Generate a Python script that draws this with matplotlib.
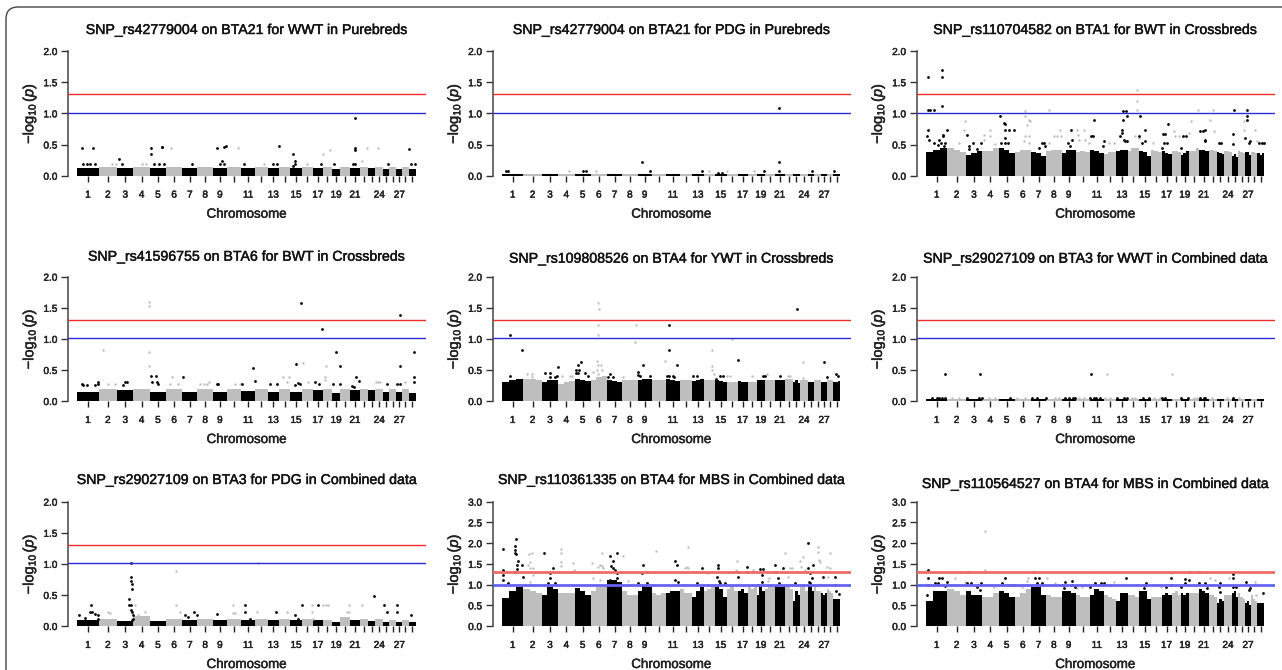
import numpy as np
import matplotlib
matplotlib.use('Agg')
import matplotlib.pyplot as plt
import matplotlib.patheffects as pe
from matplotlib.patches import FancyBboxPatch
from matplotlib.transforms import IdentityTransform

plt.rcParams['font.family'] = ['Liberation Sans', 'DejaVu Sans']
plt.rcParams['mathtext.fontset'] = 'custom'
plt.rcParams['mathtext.rm'] = 'Liberation Sans'
plt.rcParams['mathtext.it'] = 'Liberation Sans:italic'

# width of chromosomes 1..29 on the shared x scale
chrom_len = [64, 55.5, 49, 49, 49, 48, 46, 46, 42.5, 42, 43, 37, 34, 34, 34.5,
             33, 30, 27, 26, 29, 29, 25, 21, 25, 17.5, 21, 18, 19, 21]
shown_labels = [1, 2, 3, 4, 5, 6, 7, 8, 9, 11, 13, 15, 17, 19, 21, 24, 27]

titles = ['SNP_rs42779004 on BTA21 for WWT in Purebreds',
          'SNP_rs42779004 on BTA21 for PDG in Purebreds',
          'SNP_rs110704582 on BTA1 for BWT in Crossbreds',
          'SNP_rs41596755 on BTA6 for BWT in Crossbreds',
          'SNP_rs109808526 on BTA4 for YWT in Crossbreds',
          'SNP_rs29027109 on BTA3 for WWT in Combined data',
          'SNP_rs29027109 on BTA3 for PDG in Combined data',
          'SNP_rs110361335 on BTA4 for MBS in Combined data',
          'SNP_rs110564527 on BTA4 for MBS in Combined data']

# solid part of the cloud, one height per chromosome
p1_solid = [.13, .145, .13, .145, .13, .145, .12, .145, .13, .145, .12, .145, .12, .145, .12,
            .145, .12, .145, .10, .145, .12, .145, .12, .145, .11, .145, .11, .145, .11]
p2_solid = [.025] * 29
p3_solid = [.32, .36, .28, .35, .32, .38, .28, .38, .30, .32, .30, .35, .33, .38, .27,
            .36, .28, .33, .25, .33, .32, .36, .28, .35, .27, .33, .28, .30, .25]
p4_solid = [.15, .19, .18, .19, .15, .19, .14, .19, .14, .19, .16, .20, .14, .20, .15,
            .20, .18, .20, .13, .19, .17, .19, .17, .19, .14, .19, .14, .19, .13]
p5_solid = [.27, .32, .25, .26, .27, .33, .25, .31, .30, .30, .28, .31, .29, .30, .25,
            .27, .24, .28, .27, .30, .28, .32, .24, .30, .22, .30, .22, .30, .22]
p6_solid = [.025] * 29
p7_solid = [.09, .12, .08, .16, .08, .12, .10, .11, .09, .12, .10, .12, .10, .12, .09,
            .11, .09, .10, .07, .14, .09, .11, .08, .12, .07, .10, .07, .10, .07]
p8_solid = [.62, .72, .62, .68, .58, .75, .80, .60, .65, .62, .60, .65, .55, .68, .60,
            .72, .60, .72, .60, .75, .68, .70, .45, .65, .65, .60, .50, .60, .60]
p9_solid = [.55, .70, .45, .60, .50, .65, .65, .60, .50, .60, .55, .60, .45, .62, .50,
            .60, .55, .62, .50, .65, .55, .62, .35, .55, .50, .60, .35, .55, .30]

# top of the cloud over the left, middle and right of each chromosome
p3_fringe = [(.38, .42, .44), (.44, .42, .38), (.34, .36, .40), (.40, .40, .44), (.44, .42, .36),
             (.38, .42, .42), (.38, .36, .32), (.40, .42, .42), (.36, .42, .42), (.38, .40, .38),
             (.42, .40, .36), (.35, .38, .38), (.40, .42, .42), (.40, .44, .44), (.40, .38, .32),
             (.42, .40, .38), (.40, .36, .35), (.40, .40, .38), (.33, .37, .40), (.40, .40, .44),
             (.42, .42, .40), (.42, .42, .40), (.38, .36, .35), (.40, .40, .38), (.32, .35, .30),
             (.40, .38, .36), (.38, .38, .34), (.38, .38, .36), (.36, .34, .36)]
p5_fringe = [(.30, .34, .36), (.36, .36, .33), (.30, .34, .33), (.28, .30, .32), (.36, .34, .32),
             (.34, .38, .40), (.34, .32, .30), (.34, .34, .34), (.34, .36, .36), (.33, .33, .33),
             (.36, .34, .32), (.34, .34, .34), (.32, .34, .36), (.33, .33, .33), (.34, .32, .30),
             (.30, .30, .30), (.32, .31, .30), (.31, .31, .31), (.33, .33, .33), (.33, .33, .33),
             (.34, .34, .34), (.35, .35, .35), (.31, .33, .29), (.33, .33, .33), (.30, .30, .30),
             (.33, .33, .33), (.30, .30, .30), (.33, .33, .33), (.31, .30, .32)]
p8_fringe = [(.68, .85, .95), (.90, .85, .80), (.75, .95, .90), (.80, .80, .80), (.92, .85, .75),
             (.85, .95, 1.0), (1.1, 1.1, 1.05), (.85, .75, .75), (.85, 1.0, .95), (.80, .75, .80),
             (.80, .85, .85), (.90, .80, .80), (.70, .85, .95), (.85, .90, .95), (.95, .90, .70),
             (.90, 1.0, .85), (.85, .90, .80), (.95, .90, .95), (.75, .95, .85), (.90, 1.0, 1.0),
             (1.0, .95, .95), (1.0, .95, .90), (.60, .85, .75), (.95, .95, .85), (1.0, 1.0, .85),
             (.95, .85, .85), (.80, .75, .80), (.90, .85, .80), (.65, .65, .65)]
p9_fringe = [(.60, .85, .85), (.90, .85, .75), (.85, .75, .75), (.70, .70, .80), (.85, .80, .70),
             (.70, .80, .90), (.95, .95, .75), (.75, .70, .70), (.85, .85, .80), (.75, .70, .70),
             (.75, .90, .85), (.75, .70, .65), (.60, .80, .80), (.75, .75, .70), (.85, .85, .65),
             (.70, .70, .70), (.75, .80, .75), (.80, .85, .75), (.80, .75, .80), (.80, .80, .80),
             (.90, .85, .80), (.75, .75, .70), (.55, .65, .60), (.75, .75, .75), (.80, .85, .70),
             (.80, .70, .65), (.55, .60, .50), (.75, .65, .60), (.55, .55, .55)]

# isolated SNPs: (position on the x scale, -log10 p)
p1_points = [(15, .45), (48, .45), (18, .19), (30, .19), (38, .19), (53, .19), (125, .27), (135, .18),
             (115, .19), (103, .19), (221, .45), (221, .35), (255, .46), (253, .46), (231, .19), (246, .19),
             (261, .19), (280, .45), (420, .44), (440, .46), (446, .47), (428, .19), (435, .24), (440, .19),
             (482, .45), (604, .47), (586, .19), (598, .19), (648, .35), (653, .24), (653, .19), (646, .16),
             (738, .35), (758, .42), (834, .92), (834, .45), (834, .42), (826, .19), (834, .19), (853, .24),
             (868, .45), (903, .45), (995, .43), (1001, .19), (1012, .19), (933, .19), (343, .19), (501, .19),
             (731, .19), (770, .19), (194, .19), (206, .19), (560, .19), (688, .19)]
p2_points = [(12, .07), (18, .07), (200, .07), (244, .07), (252, .07), (281, .07), (421, .22), (444, .07),
             (601, .07), (622, .07), (676, .07), (756, .07), (787, .07), (832, 1.09), (832, .22), (832, .07),
             (929, .07), (996, .07), (649, .04), (659, .04)]
p3_points = [(6, 1.58), (48, 1.58), (48, 1.70), (48, 1.12), (6, 1.05), (12, 1.05), (25, 1.05), (63, .74),
             (6, .73), (4, .64), (10, .57), (23, .53), (40, .57), (44, .53), (50, .66), (50, .63), (36, .49),
             (53, .47), (58, .52), (118, .87), (113, .74), (100, .52), (123, .66), (128, .48), (130, .43),
             (142, .53), (166, .53), (153, .43), (173, .65), (175, .57), (193, .74), (193, .64), (208, .51),
             (223, .95), (236, .83), (233, .85), (238, .73), (248, .73), (236, .61), (224, .53), (236, .53),
             (246, .53), (264, .74), (296, 1.04), (296, .96), (303, .81), (313, .87), (310, .89), (298, .63),
             (308, .63), (293, .55), (308, .52), (368, 1.05), (348, .53), (353, .52), (338, .44), (356, .47),
             (383, .64), (393, .64), (403, .73), (404, .64), (368, .53), (436, .74), (426, .53), (438, .57),
             (433, .47), (453, .74), (456, .65), (473, .74), (458, .57), (476, .57), (490, .52), (503, .89),
             (496, .63), (500, .63), (533, .56), (530, .47), (548, .53), (563, .53), (590, 1.03), (590, .90),
             (600, 1.04), (603, .96), (588, .73), (588, .68), (583, .64), (593, .57), (598, .55), (604, .55),
             (633, 1.37), (633, 1.2), (633, 1.05), (628, .64), (638, .6), (643, .95), (656, .73), (640, .64),
             (648, .52), (658, .55), (680, .53), (725, .83), (710, .67), (718, .67), (713, .52), (723, .52),
             (708, .44), (743, .71), (748, .63), (758, .63), (771, .63), (781, .63), (766, .44), (796, .87),
             (790, .68), (815, 1.05), (838, .57), (823, .72), (830, .72), (838, .74), (836, .55), (860, 1.05),
             (853, .9), (863, .72), (878, .53), (886, .52), (923, 1.05), (921, .67), (920, .51), (953, .88),
             (953, .73), (963, 1.05), (963, .96), (963, .89), (958, .61), (968, .52), (973, .56), (988, .74),
             (992, .56), (998, .52), (1008, .52), (1013, .52)]
p4_points = [(216, 1.59), (216, 1.53), (216, .79), (216, .57), (78, .82), (220, .40), (236, .40), (223, .30),
             (238, .31), (243, .28), (672, 1.58), (968, 1.38), (735, 1.16), (776, .79), (788, .57), (655, .60),
             (528, .53), (532, .32), (968, .57), (1011, .79), (1011, .39), (1011, .30), (836, .39), (846, .32),
             (678, .61), (746, .57), (743, .39), (743, .34), (13, .28), (18, .26), (30, .26), (53, .26), (63, .31),
             (63, .28), (143, .31), (148, .31), (138, .26), (418, .27), (423, .28), (493, .27), (578, .27),
             (598, .27), (663, .29), (668, .27), (653, .26), (713, .31), (726, .27), (768, .27), (788, .27),
             (823, .24), (830, .23), (930, .27), (958, .27), (968, .27), (93, .27), (113, .28), (283, .39),
             (316, .39), (303, .28), (278, .27), (368, .27), (380, .27), (388, .27), (396, .31), (473, .27),
             (618, .39), (636, .39), (628, .31), (693, .31), (895, .31), (903, .31), (908, .31), (983, .31), (488, .27)]
p5_points = [(25, 1.06), (59, .82), (25, .40), (289, 1.57), (291, 1.48), (289, 1.22), (289, 1.06), (284, .64),
             (289, .58), (296, .58), (284, .50), (299, .50), (289, .43), (274, .47), (884, 1.48), (501, 1.22),
             (501, .82), (526, .58), (494, .40), (502, .40), (514, .40), (517, .38), (488, .64), (402, 1.22),
             (399, .95), (364, .39), (631, .82), (631, .57), (631, .50), (636, .43), (689, 1.0), (709, .66),
             (967, .63), (904, .63), (904, .37), (237, .63), (229, .58), (221, .50), (231, .50), (221, .45),
             (229, .45), (249, .45), (259, .40), (167, .55), (144, .45), (129, .45), (144, .39), (159, .39),
             (164, .40), (424, .58), (408, .47), (409, .42), (414, .40), (444, .41), (324, .43), (319, .39),
             (334, .39), (574, .40), (584, .40), (641, .36), (654, .41), (662, .41), (784, .41), (789, .41),
             (834, .40), (1002, .44), (1009, .40), (974, .39), (74, .44), (89, .44), (89, .39), (179, .40),
             (204, .40), (209, .40), (749, .40), (794, .43), (859, .40), (864, .40), (674, .40), (684, .40)]
p6_points = [(58, .43), (161, .43), (495, .43), (544, .43), (738, .43)] + \
            [(x, .055) for x in (18, 33, 40, 48, 56, 123, 158, 168, 253, 318, 333, 359, 418, 428, 440, 493, 503,
                                 511, 523, 573, 593, 603, 651, 668, 708, 718, 765, 786, 823, 833, 838, 920,
                                 78, 98, 188, 208, 273, 298, 388, 398, 448, 458, 473, 538, 553, 618, 628, 683,
                                 703, 803, 813, 858, 903, 938)]
p7_points = [(40, .34), (38, .23), (43, .23), (53, .19), (63, .18), (63, .12), (6, .18), (23, .13), (93, .23),
             (98, .21), (161, 1.02), (161, .79), (161, .72), (163, .67), (165, .60), (156, .43), (156, .34),
             (161, .34), (161, .26), (163, .23), (166, .18), (168, .12), (163, .10), (173, .34), (203, .23),
             (178, .12), (183, .17), (295, .89), (295, .34), (309, .23), (350, .23), (358, .17), (323, .17),
             (333, .14), (420, .19), (468, .34), (468, .21), (473, .21), (503, .34), (503, .23), (518, .12),
             (543, 1.02), (538, .23), (596, .23), (628, .23), (673, .34), (703, .34), (703, .23), (706, .12),
             (653, .17), (663, .12), (723, .34), (738, .34), (746, .34), (753, .34), (816, .34), (808, .23),
             (816, .23), (853, .34), (891, .48), (921, .34), (930, .23), (958, .34), (958, .23), (1000, .17)]
p8_points = [(4, 1.87), (41, 2.10), (39, 1.94), (39, 1.83), (39, 1.77), (41, 1.73), (49, 1.57), (61, 1.47),
             (46, 1.47), (46, 1.37), (40, 1.30), (4, 1.35), (4, 1.23), (4, 1.11), (17, 1.03), (63, 1.19),
             (81, 1.73), (89, 1.75), (94, 1.39), (84, 1.55), (79, 1.47), (84, 1.39), (74, 1.31), (94, 1.23),
             (84, 1.07), (126, 1.75), (154, 1.41), (144, 1.27), (144, 1.15), (139, 1.03), (159, 1.03),
             (177, 1.85), (177, 1.75), (177, 1.55), (177, 1.45), (214, 1.51), (217, 1.35), (271, 1.51),
             (299, 1.75), (294, 1.47), (299, 1.45), (289, 1.43), (304, 1.39), (270, 1.31), (274, 1.15),
             (294, 1.11), (324, 1.69), (344, 1.75), (332, 1.58), (327, 1.45), (332, 1.39), (339, 1.35),
             (344, 1.27), (344, 1.15), (324, 1.11), (330, 1.05), (340, 1.05), (364, 1.69), (379, 1.09),
             (424, 1.47), (420, 1.29), (434, 1.30), (409, 1.03), (434, 1.03), (462, 1.81), (472, 1.31),
             (489, 1.31), (519, 1.58), (524, 1.47), (519, 1.11), (529, 1.07), (559, 1.91), (554, 1.43),
             (549, 1.39), (559, 1.39), (601, 1.41), (619, 1.27), (584, 1.03), (647, 1.47), (647, 1.41),
             (644, 1.19), (652, 1.09), (654, 1.03), (669, 1.03), (704, 1.58), (702, 1.35), (689, 1.31),
             (709, 1.30), (709, 1.19), (734, 1.43), (734, 1.30), (754, 1.35), (774, 1.37), (784, 1.37),
             (779, 1.23), (779, 1.05), (769, 1.0), (802, 1.15), (799, 1.09), (819, 1.47), (819, 1.30),
             (829, 1.15), (842, 1.41), (832, 1.03), (849, 1.75), (864, 1.41), (869, 1.41), (859, 1.19),
             (879, 1.03), (894, 1.58), (904, 1.67), (896, 1.43), (909, 1.35), (919, 2.0), (919, 1.41),
             (932, 1.47), (924, 1.27), (929, 1.15), (922, 1.07), (924, 1.03), (949, 1.91), (949, 1.79),
             (952, 1.59), (954, 1.55), (984, 1.75), (976, 1.43), (984, 1.41), (979, 1.19), (962, 1.19),
             (998, 1.19), (999, 1.0), (1003, .85), (1012, .78)]
p9_points = [(178, 2.29), (178, 1.35), (178, 1.30), (6, 1.35), (6, 1.15), (6, .99), (3, .75), (40, 1.15),
             (48, 1.15), (36, 1.03), (26, 1.03), (63, 1.07), (58, .97), (88, 1.15), (78, .99), (125, 1.30),
             (136, 1.03), (122, 1.03), (153, .93), (166, 1.03), (163, .87), (117, 1.07), (188, .99), (203, .95),
             (236, 1.15), (228, 1.03), (253, 1.0), (263, .99), (298, 1.30), (303, 1.08), (306, 1.15), (288, .95),
             (325, 1.30), (338, 1.15), (328, 1.15), (348, 1.03), (333, 1.03), (363, 1.15), (388, 1.03), (368, .99),
             (416, 1.07), (408, .99), (413, .92), (438, 1.08), (438, .99), (447, .95), (460, 1.30), (490, 1.30),
             (453, .92), (468, .95), (493, .95), (508, 1.03), (526, 1.03), (533, 1.03), (560, 1.30), (553, .99),
             (563, 1.07), (601, 1.15), (658, .99), (653, .91), (660, 1.03), (683, .99), (706, .95), (720, .95),
             (736, 1.15), (736, .99), (758, 1.30), (738, 1.27), (788, 1.30), (778, 1.13), (778, 1.03), (766, .95),
             (788, 1.11), (820, 1.30), (820, 1.03), (836, 1.03), (843, .92), (853, 1.30), (853, 1.15), (868, 1.11),
             (908, 1.15), (883, 1.03), (878, .95), (881, .83), (898, .99), (920, 1.25), (920, 1.15), (922, .95),
             (930, .95), (950, 1.30), (961, 1.05), (968, .87), (983, 1.30), (986, 1.07), (990, .76), (973, .91),
             (1011, .80)]

solids = [p1_solid, p2_solid, p3_solid, p4_solid, p5_solid, p6_solid, p7_solid, p8_solid, p9_solid]
fringes = [None, None, p3_fringe, None, p5_fringe, None, None, p8_fringe, p9_fringe]
points = [p1_points, p2_points, p3_points, p4_points, p5_points, p6_points, p7_points, p8_points, p9_points]
y_tops = [2, 2, 2, 2, 2, 2, 2, 3, 3]
red_level = 1.31
blue_level = 1.01

W, H = 1282, 670
col_left = [68.3, 493, 917]
col_right = [426, 850.7, 1274.7]
row_base = [175.7, 401, 626]
row_top = [51, 276.7, 501.7]
title_y = [30, 30, 30, 256.7, 258.7, 258.7, 480, 480, 484]

ends = np.cumsum(chrom_len)
starts = ends - np.array(chrom_len)
mids = (starts + ends) / 2
bar_colors = ['black' if i % 2 == 0 else '#bebebe' for i in range(29)]
tick_names = [str(i + 1) if (i + 1) in shown_labels else '' for i in range(29)]

# a light stroke makes the text as heavy as in the picture
heavy = [pe.withStroke(linewidth=0.35, foreground='#222222')]

fig = plt.figure(figsize=(W / 100, H / 100), dpi=100, facecolor='white')

for n in range(9):
    r, c = n // 3, n % 3
    left, right, base, top = col_left[c], col_right[c], row_base[r], row_top[r]
    ax = fig.add_axes([left / W, 1 - base / H, (right - left) / W, (base - top) / H])
    ax.set_xlim(-27, 1046)
    ax.set_ylim(0, y_tops[n])

    ax.bar(mids, solids[n], width=chrom_len, color=bar_colors, linewidth=0, zorder=2)
    if fringes[n] is not None:
        for i in range(29):
            w = chrom_len[i] / 3
            sub_x = starts[i] + w * np.array([0.5, 1.5, 2.5])
            ax.bar(sub_x, fringes[n][i], width=w, color=bar_colors[i], linewidth=0, zorder=2)

    xs = np.array([p[0] for p in points[n]], dtype=float)
    ys = np.array([p[1] for p in points[n]], dtype=float)
    idx = np.searchsorted(ends, xs)
    odd = idx % 2 == 0
    ax.scatter(xs[~odd], ys[~odd], s=3, c='#bebebe', linewidths=0, zorder=3, clip_on=False)
    ax.scatter(xs[odd], ys[odd], s=4, c='black', linewidths=0, zorder=3, clip_on=False)

    if y_tops[n] == 3:
        ax.axhline(red_level - 0.01, color='#f06a6a', lw=2.0, zorder=4)
        ax.axhline(1.0, color='#6464f0', lw=2.0, zorder=4)
    else:
        ax.axhline(red_level, color='#f22c2c', lw=1.0, zorder=4)
        ax.axhline(blue_level, color='#2a2ad8', lw=1.0, zorder=4)

    for s in ('top', 'right', 'bottom'):
        ax.spines[s].set_visible(False)
    ax.spines['left'].set_color('#444444')
    ax.spines['left'].set_linewidth(1.1)
    ax.patch.set_alpha(0)

    ax.set_xticks(mids)
    ax.set_xticklabels(tick_names, fontsize=7.2, color='#222222', path_effects=heavy)
    ax.tick_params(axis='x', length=4, width=1.0, color='#222222', pad=6)
    yt = np.arange(0, y_tops[n] + 0.01, 0.5)
    ax.set_yticks(yt)
    ax.set_yticklabels(['%.1f' % v for v in yt], fontsize=7.2, color='#222222', path_effects=heavy)
    ax.tick_params(axis='y', length=4.8, width=1.0, color='#333333', pad=3)

    cx = (left + right) / 2 - 0.7
    fig.text(cx / W, 1 - title_y[n] / H, titles[n], fontsize=10.2, ha='center', va='center', color='#111111',
             path_effects=heavy)
    fig.text(cx / W, 1 - (base + 39) / H, 'Chromosome', fontsize=9.6, ha='center', va='center', color='#222222',
             path_effects=heavy)
    fig.text((left - 39) / W, 1 - (base + top) / 2 / H, r'$-\log_{10}(p)$', fontsize=10.5, rotation=90,
             ha='center', va='center', color='#222222', path_effects=heavy)

# rounded frame round the whole figure, only its top and left sides fall inside
frame = FancyBboxPatch((6, -60), 1400, H - 7 + 60, boxstyle='round,pad=0,rounding_size=12',
                       facecolor='none', edgecolor='#444444', linewidth=1.0, transform=IdentityTransform())
fig.add_artist(frame)

fig.savefig('out.png', dpi=100)
